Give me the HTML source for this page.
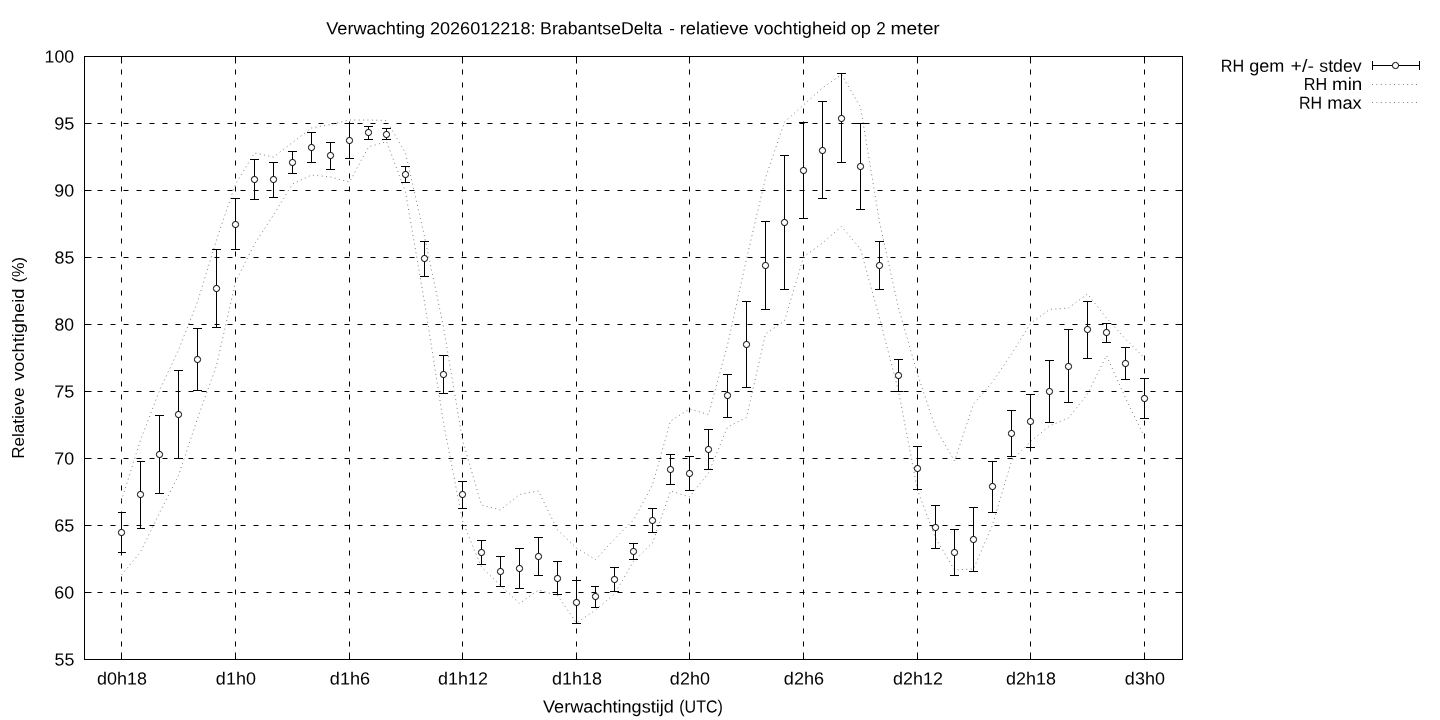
<!DOCTYPE html>
<html><head><meta charset="utf-8"><title>Verwachting</title>
<style>html,body{margin:0;padding:0;background:#fff;overflow:hidden}svg{display:block}text{font-family:"Liberation Sans",sans-serif;font-size:17.5px;fill:#000}</style></head><body>
<svg width="1440" height="720" viewBox="0 0 1440 720">
<rect width="1440" height="720" fill="#fff"/>
<g stroke="#000" stroke-width="1" fill="none" stroke-dasharray="5 8">
<path d="M84.5 123.5H1182.5"/>
<path d="M84.5 190.5H1182.5"/>
<path d="M84.5 257.5H1182.5"/>
<path d="M84.5 324.5H1182.5"/>
<path d="M84.5 391.5H1182.5"/>
<path d="M84.5 458.5H1182.5"/>
<path d="M84.5 525.5H1182.5"/>
<path d="M84.5 592.5H1182.5"/>
<path d="M121.5 659.5V56.5"/>
<path d="M235.5 659.5V56.5"/>
<path d="M349.5 659.5V56.5"/>
<path d="M462.5 659.5V56.5"/>
<path d="M576.5 659.5V56.5"/>
<path d="M689.5 659.5V56.5"/>
<path d="M803.5 659.5V56.5"/>
<path d="M917.5 659.5V56.5"/>
<path d="M1030.5 659.5V56.5"/>
<path d="M1144.5 659.5V56.5"/>
</g>
<g stroke="#000" stroke-width="1" fill="none">
<path d="M84.5 56.5h7M1182.5 56.5h-7"/>
<path d="M84.5 123.5h7M1182.5 123.5h-7"/>
<path d="M84.5 190.5h7M1182.5 190.5h-7"/>
<path d="M84.5 257.5h7M1182.5 257.5h-7"/>
<path d="M84.5 324.5h7M1182.5 324.5h-7"/>
<path d="M84.5 391.5h7M1182.5 391.5h-7"/>
<path d="M84.5 458.5h7M1182.5 458.5h-7"/>
<path d="M84.5 525.5h7M1182.5 525.5h-7"/>
<path d="M84.5 592.5h7M1182.5 592.5h-7"/>
<path d="M84.5 659.5h7M1182.5 659.5h-7"/>
<path d="M121.5 659.5v-7M121.5 56.5v7"/>
<path d="M235.5 659.5v-7M235.5 56.5v7"/>
<path d="M349.5 659.5v-7M349.5 56.5v7"/>
<path d="M462.5 659.5v-7M462.5 56.5v7"/>
<path d="M576.5 659.5v-7M576.5 56.5v7"/>
<path d="M689.5 659.5v-7M689.5 56.5v7"/>
<path d="M803.5 659.5v-7M803.5 56.5v7"/>
<path d="M917.5 659.5v-7M917.5 56.5v7"/>
<path d="M1030.5 659.5v-7M1030.5 56.5v7"/>
<path d="M1144.5 659.5v-7M1144.5 56.5v7"/>
</g>
<polyline points="121.5,575 140.5,552 159.5,513 178.5,475.5 197.5,418.5 216.5,365.5 235.5,282 254.5,244 273.5,215 292.5,184 311.5,175 330.5,177 349.5,182 368.5,147 386.5,141.5 405.5,192 424.5,302 443.5,423 462.5,521 481.5,567 500.5,585.5 519.5,603.5 538.5,590 557.5,595.5 576.5,623 595.5,610 614.5,594 633.5,561.5 652.5,543 670.5,491 689.5,497 708.5,473 727.5,427 746.5,417.5 765.5,334 784.5,321 803.5,257 822.5,243 841.5,226.5 860.5,249 879.5,318 898.5,391 917.5,490 935.5,538 954.5,570 973.5,569 992.5,525 1011.5,461 1030.5,441.5 1049.5,426 1068.5,418 1087.5,394 1106.5,355.5 1125.5,398 1144.5,437" fill="none" stroke="#808080" stroke-width="1" stroke-dasharray="1 3.4"/>
<polyline points="121.5,500.5 140.5,440 159.5,390.5 178.5,350 197.5,302 216.5,240 235.5,184 254.5,153 273.5,157 292.5,142.5 311.5,128 330.5,124.5 349.5,120 368.5,120 386.5,120.5 405.5,153 424.5,236.5 443.5,327 462.5,440 481.5,505 500.5,510 519.5,494.5 538.5,491 557.5,530 576.5,548 595.5,559.5 614.5,539 633.5,520 652.5,485 670.5,421 689.5,409 708.5,414.5 727.5,345 746.5,259 765.5,178 784.5,122 803.5,105 822.5,88 841.5,74.5 860.5,107 879.5,222 898.5,308 917.5,374 935.5,428 954.5,461 973.5,404 992.5,382 1011.5,354 1030.5,323.5 1049.5,309.5 1068.5,308 1087.5,294 1106.5,318 1125.5,339 1144.5,358" fill="none" stroke="#808080" stroke-width="1" stroke-dasharray="1 3.4"/>
<g stroke="#000" stroke-width="1" fill="none">
<path d="M121.5 512.5V552.5M118 512.5h8M118 552.5h8"/>
<path d="M140.5 461.5V528.5M137 461.5h8M137 528.5h8"/>
<path d="M159.5 415.5V493.5M155 415.5h9M155 493.5h9"/>
<path d="M178.5 370.5V458.5M174 370.5h9M174 458.5h9"/>
<path d="M197.5 328.5V390.5M193 328.5h9M193 390.5h9"/>
<path d="M216.5 249.5V327.5M212 249.5h9M212 327.5h9"/>
<path d="M235.5 198.5V249.5M231 198.5h9M231 249.5h9"/>
<path d="M254.5 159.5V199.5M250 159.5h9M250 199.5h9"/>
<path d="M273.5 162.5V197.5M269 162.5h9M269 197.5h9"/>
<path d="M292.5 151.5V173.5M288 151.5h9M288 173.5h9"/>
<path d="M311.5 132.5V162.5M307 132.5h9M307 162.5h9"/>
<path d="M330.5 142.5V169.5M326 142.5h9M326 169.5h9"/>
<path d="M349.5 123.5V158.5M345 123.5h9M345 158.5h9"/>
<path d="M368.5 126.5V139.5M364 126.5h9M364 139.5h9"/>
<path d="M386.5 128.5V139.5M382 128.5h9M382 139.5h9"/>
<path d="M405.5 166.5V182.5M401 166.5h9M401 182.5h9"/>
<path d="M424.5 241.5V276.5M420 241.5h9M420 276.5h9"/>
<path d="M443.5 355.5V393.5M439 355.5h9M439 393.5h9"/>
<path d="M462.5 481.5V508.5M458 481.5h9M458 508.5h9"/>
<path d="M481.5 540.5V564.5M477 540.5h9M477 564.5h9"/>
<path d="M500.5 556.5V586.5M496 556.5h9M496 586.5h9"/>
<path d="M519.5 548.5V588.5M515 548.5h9M515 588.5h9"/>
<path d="M538.5 537.5V575.5M534 537.5h9M534 575.5h9"/>
<path d="M557.5 561.5V594.5M553 561.5h9M553 594.5h9"/>
<path d="M576.5 580.5V623.5M572 580.5h9M572 623.5h9"/>
<path d="M595.5 586.5V607.5M591 586.5h8M591 607.5h8"/>
<path d="M614.5 567.5V591.5M610 567.5h9M610 591.5h9"/>
<path d="M633.5 543.5V559.5M629 543.5h9M629 559.5h9"/>
<path d="M652.5 508.5V532.5M648 508.5h9M648 532.5h9"/>
<path d="M670.5 454.5V484.5M666 454.5h9M666 484.5h9"/>
<path d="M689.5 456.5V490.5M685 456.5h9M685 490.5h9"/>
<path d="M708.5 429.5V469.5M704 429.5h9M704 469.5h9"/>
<path d="M727.5 374.5V417.5M723 374.5h9M723 417.5h9"/>
<path d="M746.5 301.5V387.5M742 301.5h9M742 387.5h9"/>
<path d="M765.5 221.5V309.5M761 221.5h9M761 309.5h9"/>
<path d="M784.5 155.5V289.5M780 155.5h9M780 289.5h9"/>
<path d="M803.5 122.5V218.5M799 122.5h9M799 218.5h9"/>
<path d="M822.5 101.5V198.5M818 101.5h9M818 198.5h9"/>
<path d="M841.5 73.5V162.5M837 73.5h9M837 162.5h9"/>
<path d="M860.5 123.5V209.5M856 123.5h9M856 209.5h9"/>
<path d="M879.5 241.5V289.5M875 241.5h9M875 289.5h9"/>
<path d="M898.5 359.5V391.5M894 359.5h9M894 391.5h9"/>
<path d="M917.5 446.5V489.5M913 446.5h9M913 489.5h9"/>
<path d="M935.5 505.5V548.5M931 505.5h9M931 548.5h9"/>
<path d="M954.5 529.5V575.5M950 529.5h9M950 575.5h9"/>
<path d="M973.5 507.5V571.5M969 507.5h9M969 571.5h9"/>
<path d="M992.5 461.5V512.5M988 461.5h9M988 512.5h9"/>
<path d="M1011.5 410.5V456.5M1007 410.5h9M1007 456.5h9"/>
<path d="M1030.5 394.5V447.5M1026 394.5h9M1026 447.5h9"/>
<path d="M1049.5 360.5V422.5M1045 360.5h9M1045 422.5h9"/>
<path d="M1068.5 329.5V402.5M1064 329.5h9M1064 402.5h9"/>
<path d="M1087.5 301.5V358.5M1083 301.5h9M1083 358.5h9"/>
<path d="M1106.5 323.5V342.5M1102 323.5h9M1102 342.5h9"/>
<path d="M1125.5 347.5V379.5M1121 347.5h9M1121 379.5h9"/>
<path d="M1144.5 378.5V418.5M1140 378.5h9M1140 418.5h9"/>
</g>
<g stroke="#000" stroke-width="1" fill="#fff">
<circle cx="121.5" cy="532.5" r="3.1"/>
<circle cx="140.5" cy="494.5" r="3.1"/>
<circle cx="159.5" cy="454.5" r="3.1"/>
<circle cx="178.5" cy="414.5" r="3.1"/>
<circle cx="197.5" cy="359.5" r="3.1"/>
<circle cx="216.5" cy="288.5" r="3.1"/>
<circle cx="235.5" cy="224.5" r="3.1"/>
<circle cx="254.5" cy="179.5" r="3.1"/>
<circle cx="273.5" cy="179.5" r="3.1"/>
<circle cx="292.5" cy="162.5" r="3.1"/>
<circle cx="311.5" cy="147.5" r="3.1"/>
<circle cx="330.5" cy="155.5" r="3.1"/>
<circle cx="349.5" cy="140.5" r="3.1"/>
<circle cx="368.5" cy="132.5" r="3.1"/>
<circle cx="386.5" cy="134.5" r="3.1"/>
<circle cx="405.5" cy="174.5" r="3.1"/>
<circle cx="424.5" cy="258.5" r="3.1"/>
<circle cx="443.5" cy="374.5" r="3.1"/>
<circle cx="462.5" cy="494.5" r="3.1"/>
<circle cx="481.5" cy="552.5" r="3.1"/>
<circle cx="500.5" cy="571.5" r="3.1"/>
<circle cx="519.5" cy="568.5" r="3.1"/>
<circle cx="538.5" cy="556.5" r="3.1"/>
<circle cx="557.5" cy="578.5" r="3.1"/>
<circle cx="576.5" cy="602.5" r="3.1"/>
<circle cx="595.5" cy="596.5" r="3.1"/>
<circle cx="614.5" cy="579.5" r="3.1"/>
<circle cx="633.5" cy="551.5" r="3.1"/>
<circle cx="652.5" cy="520.5" r="3.1"/>
<circle cx="670.5" cy="469.5" r="3.1"/>
<circle cx="689.5" cy="473.5" r="3.1"/>
<circle cx="708.5" cy="449.5" r="3.1"/>
<circle cx="727.5" cy="395.5" r="3.1"/>
<circle cx="746.5" cy="344.5" r="3.1"/>
<circle cx="765.5" cy="265.5" r="3.1"/>
<circle cx="784.5" cy="222.5" r="3.1"/>
<circle cx="803.5" cy="170.5" r="3.1"/>
<circle cx="822.5" cy="150.5" r="3.1"/>
<circle cx="841.5" cy="118.5" r="3.1"/>
<circle cx="860.5" cy="166.5" r="3.1"/>
<circle cx="879.5" cy="265.5" r="3.1"/>
<circle cx="898.5" cy="375.5" r="3.1"/>
<circle cx="917.5" cy="468.5" r="3.1"/>
<circle cx="935.5" cy="527.5" r="3.1"/>
<circle cx="954.5" cy="552.5" r="3.1"/>
<circle cx="973.5" cy="539.5" r="3.1"/>
<circle cx="992.5" cy="486.5" r="3.1"/>
<circle cx="1011.5" cy="433.5" r="3.1"/>
<circle cx="1030.5" cy="421.5" r="3.1"/>
<circle cx="1049.5" cy="391.5" r="3.1"/>
<circle cx="1068.5" cy="366.5" r="3.1"/>
<circle cx="1087.5" cy="329.5" r="3.1"/>
<circle cx="1106.5" cy="332.5" r="3.1"/>
<circle cx="1125.5" cy="363.5" r="3.1"/>
<circle cx="1144.5" cy="398.5" r="3.1"/>
</g>
<rect x="84.5" y="56.5" width="1098" height="603" fill="none" stroke="#000" stroke-width="1"/>
<g stroke="#000" stroke-width="1" fill="none"><path d="M1372.5 65.5H1419.5M1372.5 61v9M1419.5 61v9"/><circle cx="1395.5" cy="65.5" r="3.1" fill="#fff"/></g>
<path d="M1372 84.5H1417.5M1372 102.5H1417.5" stroke="#808080" stroke-width="1" stroke-dasharray="1 3.4" fill="none"/>
<g opacity="0.999"><text transform="matrix(1 0.0006 0 1 0 -0.1957)" x="326.20" y="34.25" textLength="99.02" lengthAdjust="spacingAndGlyphs">Verwachting</text>
<text transform="matrix(1 0.0006 0 1 0 -0.2580)" x="429.95" y="34.25" textLength="105.58" lengthAdjust="spacingAndGlyphs">2026012218:</text>
<text transform="matrix(1 0.0006 0 1 0 -0.3241)" x="540.11" y="34.25" textLength="122.27" lengthAdjust="spacingAndGlyphs">BrabantseDelta</text>
<text transform="matrix(1 0.0006 0 1 0 -0.4015)" x="669.17" y="34.25" textLength="5.64" lengthAdjust="spacingAndGlyphs">-</text>
<text transform="matrix(1 0.0006 0 1 0 -0.4078)" x="679.66" y="34.25" textLength="69.08" lengthAdjust="spacingAndGlyphs">relatieve</text>
<text transform="matrix(1 0.0006 0 1 0 -0.4526)" x="754.30" y="34.25" textLength="92.02" lengthAdjust="spacingAndGlyphs">vochtigheid</text>
<text transform="matrix(1 0.0006 0 1 0 -0.5104)" x="850.73" y="34.25" textLength="20.31" lengthAdjust="spacingAndGlyphs">op</text>
<text transform="matrix(1 0.0006 0 1 0 -0.5257)" x="876.20" y="34.25" textLength="9.49" lengthAdjust="spacingAndGlyphs">2</text>
<text transform="matrix(1 0.0006 0 1 0 -0.5343)" x="890.49" y="34.25" textLength="49.30" lengthAdjust="spacingAndGlyphs">meter</text>
<text transform="matrix(1 0.0006 0 1 0 -0.3258)" x="543.00" y="712.40" textLength="130.92" lengthAdjust="spacingAndGlyphs">Verwachtingstijd</text>
<text transform="matrix(1 0.0006 0 1 0 -0.4075)" x="679.25" y="712.40" textLength="43.68" lengthAdjust="spacingAndGlyphs">(UTC)</text>
<text transform="matrix(1 0.0006 0 1 0 -0.7325)" x="1220.84" y="71.70" textLength="23.39" lengthAdjust="spacingAndGlyphs">RH</text>
<text transform="matrix(1 0.0006 0 1 0 -0.7495)" x="1249.23" y="71.70" textLength="35.20" lengthAdjust="spacingAndGlyphs">gem</text>
<text transform="matrix(1 0.0006 0 1 0 -0.7744)" x="1290.59" y="71.70" textLength="23.32" lengthAdjust="spacingAndGlyphs">+/-</text>
<text transform="matrix(1 0.0006 0 1 0 -0.7916)" x="1319.32" y="71.70" textLength="42.38" lengthAdjust="spacingAndGlyphs">stdev</text>
<text transform="matrix(1 0.0006 0 1 0 -0.7822)" x="1303.74" y="89.95" textLength="23.39" lengthAdjust="spacingAndGlyphs">RH</text>
<text transform="matrix(1 0.0006 0 1 0 -0.7992)" x="1332.02" y="89.95" textLength="30.33" lengthAdjust="spacingAndGlyphs">min</text>
<text transform="matrix(1 0.0006 0 1 0 -0.7794)" x="1298.95" y="108.70" textLength="23.16" lengthAdjust="spacingAndGlyphs">RH</text>
<text transform="matrix(1 0.0006 0 1 0 -0.7963)" x="1327.16" y="108.70" textLength="34.54" lengthAdjust="spacingAndGlyphs">max</text>
<text style="font-size:17px" transform="rotate(-90)" x="-458.83" y="23.65" textLength="71.23" lengthAdjust="spacingAndGlyphs">Relatieve</text>
<text style="font-size:17px" transform="rotate(-90)" x="-380.80" y="23.65" textLength="92.12" lengthAdjust="spacingAndGlyphs">vochtigheid</text>
<text style="font-size:17px" transform="rotate(-90)" x="-282.46" y="23.65" textLength="25.30" lengthAdjust="spacingAndGlyphs">(%)</text>
<text transform="matrix(1 0.0006 0 1 0 -0.0268)" x="44.59" y="62.50" textLength="29.55" lengthAdjust="spacingAndGlyphs">100</text>
<text transform="matrix(1 0.0006 0 1 0 -0.0325)" x="54.25" y="129.50" textLength="20.19" lengthAdjust="spacingAndGlyphs">95</text>
<text transform="matrix(1 0.0006 0 1 0 -0.0326)" x="54.26" y="196.50" textLength="19.88" lengthAdjust="spacingAndGlyphs">90</text>
<text transform="matrix(1 0.0006 0 1 0 -0.0327)" x="54.54" y="263.50" textLength="19.88" lengthAdjust="spacingAndGlyphs">85</text>
<text transform="matrix(1 0.0006 0 1 0 -0.0327)" x="54.55" y="330.50" textLength="19.59" lengthAdjust="spacingAndGlyphs">80</text>
<text transform="matrix(1 0.0006 0 1 0 -0.0325)" x="54.25" y="397.50" textLength="20.19" lengthAdjust="spacingAndGlyphs">75</text>
<text transform="matrix(1 0.0006 0 1 0 -0.0326)" x="54.26" y="464.50" textLength="19.88" lengthAdjust="spacingAndGlyphs">70</text>
<text transform="matrix(1 0.0006 0 1 0 -0.0325)" x="54.25" y="531.50" textLength="20.19" lengthAdjust="spacingAndGlyphs">65</text>
<text transform="matrix(1 0.0006 0 1 0 -0.0326)" x="54.26" y="598.50" textLength="19.88" lengthAdjust="spacingAndGlyphs">60</text>
<text transform="matrix(1 0.0006 0 1 0 -0.0327)" x="54.54" y="665.50" textLength="19.88" lengthAdjust="spacingAndGlyphs">55</text>
<text transform="matrix(1 0.0006 0 1 0 -0.0583)" x="97.09" y="684.45" textLength="49.89" lengthAdjust="spacingAndGlyphs">d0h18</text>
<text transform="matrix(1 0.0006 0 1 0 -0.1295)" x="215.89" y="684.45" textLength="40.01" lengthAdjust="spacingAndGlyphs">d1h0</text>
<text transform="matrix(1 0.0006 0 1 0 -0.1979)" x="329.88" y="684.45" textLength="40.30" lengthAdjust="spacingAndGlyphs">d1h6</text>
<text transform="matrix(1 0.0006 0 1 0 -0.2629)" x="438.09" y="684.45" textLength="49.89" lengthAdjust="spacingAndGlyphs">d1h12</text>
<text transform="matrix(1 0.0006 0 1 0 -0.3313)" x="552.09" y="684.45" textLength="49.89" lengthAdjust="spacingAndGlyphs">d1h18</text>
<text transform="matrix(1 0.0006 0 1 0 -0.4019)" x="669.89" y="684.45" textLength="40.01" lengthAdjust="spacingAndGlyphs">d2h0</text>
<text transform="matrix(1 0.0006 0 1 0 -0.4703)" x="783.88" y="684.45" textLength="40.30" lengthAdjust="spacingAndGlyphs">d2h6</text>
<text transform="matrix(1 0.0006 0 1 0 -0.5359)" x="893.09" y="684.45" textLength="49.89" lengthAdjust="spacingAndGlyphs">d2h12</text>
<text transform="matrix(1 0.0006 0 1 0 -0.6037)" x="1006.09" y="684.45" textLength="49.89" lengthAdjust="spacingAndGlyphs">d2h18</text>
<text transform="matrix(1 0.0006 0 1 0 -0.6749)" x="1124.89" y="684.45" textLength="40.01" lengthAdjust="spacingAndGlyphs">d3h0</text></g>
</svg></body></html>
